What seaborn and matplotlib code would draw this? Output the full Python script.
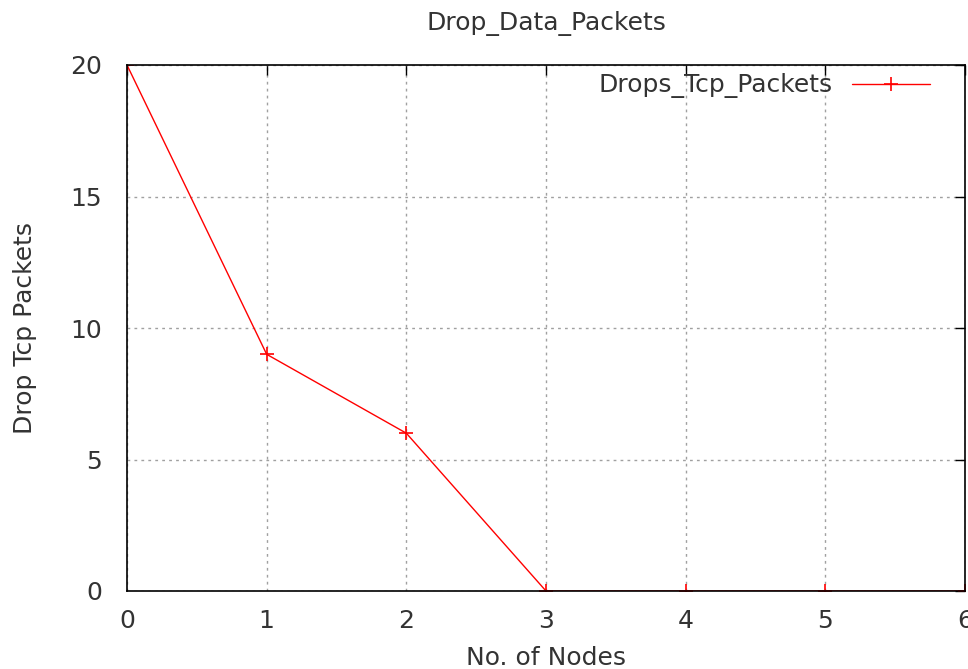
import pandas as pd
import seaborn as sns
import matplotlib.pyplot as plt

nodes = [0, 1, 2, 3, 4, 5, 6]
drops = [20, 9, 6, 0, 0, 0, 0]
xticks = [0, 1, 2, 3, 4, 5, 6]
yticks = [0, 5, 10, 15, 20]

df = pd.DataFrame({'nodes': nodes, 'drops': drops, 'series': 'Drops_Tcp_Packets'})

sns.set_style('white')
plt.rcParams['font.family'] = ['DejaVu Sans']
fs = 18
txt = '#333333'

fig = plt.figure(figsize=(9.68, 6.69), dpi=100)
ax = fig.add_axes([127 / 968, 78 / 669, 838 / 968, 526 / 669])

sns.lineplot(
    data=df, x='nodes', y='drops', hue='series',
    palette=['#ff0000'], marker='+', markersize=10, markeredgewidth=1.2,
    markeredgecolor='#ff0000', linewidth=1, ax=ax, zorder=2,
)

ax.set_xlim(0, 6)
ax.set_ylim(0, 20)
ax.set_xticks(xticks)
ax.set_yticks(yticks)
ax.tick_params(direction='in', length=7, width=1, colors='#000000',
               labelcolor=txt, labelsize=fs, top=True, right=True)
ax.tick_params(axis='x', pad=13)
ax.tick_params(axis='y', pad=18)
ax.grid(True, color='#a0a0a0', linestyle=(0, (2, 3)), linewidth=1)
for s in ax.spines.values():
    s.set_color('#000000')
    s.set_linewidth(1.2)
    s.set_zorder(3)

ax.set_xlabel('No. of Nodes', fontsize=fs, color=txt, labelpad=9)
ax.set_ylabel('Drop Tcp Packets', fontsize=fs, color=txt, labelpad=24)
ax.set_title('Drop_Data_Packets', fontsize=fs, color=txt, pad=25)

leg = ax.legend(loc='upper right', bbox_to_anchor=(0.958, 0.984),
                frameon=False, fontsize=fs, markerfirst=False,
                handlelength=3.1, handletextpad=0.8,
                borderaxespad=0, borderpad=0, labelcolor=txt)

fig.savefig('out.png', dpi=100)
